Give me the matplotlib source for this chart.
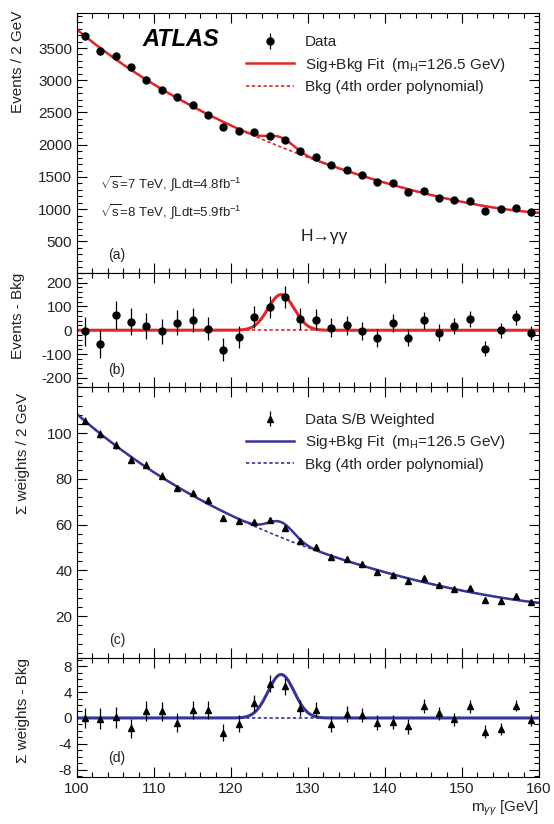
import numpy as np
import matplotlib
matplotlib.use("Agg")
import matplotlib.pyplot as plt
from matplotlib.ticker import MultipleLocator, FixedLocator

plt.rcParams['font.family'] = ['Liberation Sans', 'DejaVu Sans']
plt.rcParams['mathtext.fontset'] = 'custom'
plt.rcParams['mathtext.rm'] = 'Liberation Sans'
plt.rcParams['mathtext.it'] = 'Liberation Sans:italic'
plt.rcParams['mathtext.bf'] = 'Liberation Sans:bold'
plt.rcParams['axes.unicode_minus'] = False

# bin centres, 2 GeV bins from 100 to 160
mass = np.arange(101, 160, 2)

# (a) events / 2 GeV
events = [3680, 3450, 3380, 3200, 3010, 2845, 2735, 2620, 2465, 2275,
          2218, 2190, 2130, 2078, 1897, 1804, 1680, 1613, 1525, 1416,
          1406, 1266, 1287, 1173, 1148, 1122, 977, 1003, 1018, 950]

# (b) events - bkg
events_resid = [-5, -56, 63, 35, 17, -4, 32, 42, 7, -82,
                -28, 56, 99, 141, 49, 45, 11, 21, -3, -32,
                32, -32, 42, -10, 18, 46, -77, 0, 54, -11]

# (c) S/B weighted sum / 2 GeV
weights = [105.4, 99.6, 94.8, 88.3, 86.1, 81.3, 75.9, 73.8, 70.6, 62.9,
           61.7, 61.0, 61.9, 58.6, 52.8, 50.3, 45.8, 45.1, 42.6, 39.4,
           37.8, 35.4, 36.5, 33.6, 31.7, 32.2, 27.0, 26.4, 28.8, 26.2]

# (d) weights - bkg
weights_resid = [0.0, -0.1, 0.1, -1.6, 1.1, 1.0, -0.7, 1.2, 1.2, -2.3,
                 -0.9, 2.3, 5.3, 4.9, 1.5, 1.3, -0.9, 0.6, 0.5, -0.7,
                 -0.6, -1.3, 1.8, 0.7, -0.2, 1.8, -2.1, -1.7, 1.9, -0.3]

weights_err = [1.6, 1.6, 1.6, 1.5, 1.5, 1.5, 1.4, 1.4, 1.4, 1.3,
               1.3, 1.3, 1.3, 1.3, 1.2, 1.2, 1.2, 1.2, 1.1, 1.1,
               1.1, 1.1, 1.1, 1.0, 1.0, 1.0, 1.0, 0.9, 0.9, 0.9]

m_higgs = 126.5
sig_width = 1.7
sig_events = 150.0
sig_weights = 6.7

red = '#e3262b'
blue = '#35359a'
txt = '#222222'

events = np.array(events, float)
weights = np.array(weights, float)
events_err = np.sqrt(events)


def signal(m, peak):
    return peak * np.exp(-0.5 * ((m - m_higgs) / sig_width) ** 2)


# 4th order polynomial background, fitted to data minus signal
fine = np.linspace(100, 160, 600)
pa = np.polyfit(mass - 130, events - signal(mass, sig_events), 4)
pc = np.polyfit(mass - 130, weights - signal(mass, sig_weights), 4)
bkg_a = np.polyval(pa, fine - 130)
bkg_c = np.polyval(pc, fine - 130)

fig = plt.figure(figsize=(5.54, 8.24), dpi=100)
L, W = 0.139, 0.834
ax_a = fig.add_axes([L, 0.669, W, 0.315])
ax_b = fig.add_axes([L, 0.530, W, 0.139])
ax_c = fig.add_axes([L, 0.2015, W, 0.3285])
ax_d = fig.add_axes([L, 0.057, W, 0.1445])

for ax in (ax_a, ax_b, ax_c, ax_d):
    ax.set_xlim(100, 160)
    ax.xaxis.set_major_locator(MultipleLocator(10))
    ax.xaxis.set_minor_locator(MultipleLocator(2))
    ax.tick_params(which='both', direction='in', top=True, right=True,
                   labelsize=11, labelcolor=txt, width=0.8)
    ax.tick_params(which='major', length=7)
    ax.tick_params(which='minor', length=3.5)
    if ax is not ax_d:
        ax.tick_params(labelbottom=False)

leg_kw = dict(loc='upper left', frameon=False, fontsize=11,
              handlelength=3.15, handletextpad=0.72, labelspacing=0.42,
              borderpad=0, borderaxespad=0, labelcolor=txt)

# (a)
ax_a.set_ylim(15, 4040)
ax_a.yaxis.set_major_locator(FixedLocator(np.arange(500, 4000, 500)))
ax_a.yaxis.set_minor_locator(MultipleLocator(100))
h_bkg, = ax_a.plot(fine, bkg_a, ls=(0, (2, 1.5)), color=red, lw=1.2,
                   label='Bkg (4th order polynomial)')
h_fit, = ax_a.plot(fine, bkg_a + signal(fine, sig_events), color=red, lw=1.8,
                   label='Sig+Bkg Fit  (m$_{\\rm H}$=126.5 GeV)')
h_dat = ax_a.errorbar(mass, events, yerr=events_err, fmt='o', color='black',
                      ms=5, elinewidth=0.9, capsize=0, label='Data')
ax_a.legend(handles=[h_dat, h_fit, h_bkg], bbox_to_anchor=(0.366, 0.915),
            **leg_kw)
ax_a.text(0.141, 0.9, 'ATLAS', transform=ax_a.transAxes, fontsize=17,
          fontweight='bold', fontstyle='italic', va='center', ha='left')
ax_a.text(0.05, 0.34, r'$\sqrt{\rm s}$=7 TeV, $\int$Ldt=4.8fb$^{-1}$',
          transform=ax_a.transAxes, fontsize=9.5, va='center', color=txt)
ax_a.text(0.05, 0.232, r'$\sqrt{\rm s}$=8 TeV, $\int$Ldt=5.9fb$^{-1}$',
          transform=ax_a.transAxes, fontsize=9.5, va='center', color=txt)
ax_a.text(0.484, 0.138, 'H\u2192\u03b3\u03b3', transform=ax_a.transAxes,
          fontsize=12.5, va='center', color=txt)
ax_a.text(0.067, 0.068, '(a)', transform=ax_a.transAxes, fontsize=10,
          va='center', color=txt)
ax_a.set_ylabel('Events / 2 GeV', loc='top', fontsize=11, color=txt)
ax_a.yaxis.set_label_coords(-0.113, 1.01)

# (b)
ax_b.set_ylim(-240, 242)
ax_b.yaxis.set_major_locator(MultipleLocator(100))
ax_b.yaxis.set_minor_locator(MultipleLocator(20))
ax_b.plot(fine, np.zeros_like(fine), ls=(0, (2, 1.5)), color=red, lw=1.2)
ax_b.plot(fine, signal(fine, sig_events), color=red, lw=2.2)
ax_b.errorbar(mass, events_resid, yerr=events_err, fmt='o', color='black',
              ms=5, elinewidth=0.9, capsize=0)
ax_b.text(0.067, 0.149, '(b)', transform=ax_b.transAxes, fontsize=10,
          va='center', color=txt)
ax_b.set_ylabel('Events - Bkg', loc='top', fontsize=11, color=txt)
ax_b.yaxis.set_label_coords(-0.113, 1.0)

# (c)
ax_c.set_ylim(1.7, 120)
ax_c.yaxis.set_major_locator(FixedLocator([20, 40, 60, 80, 100]))
ax_c.yaxis.set_minor_locator(MultipleLocator(4))
hc_bkg, = ax_c.plot(fine, bkg_c, ls=(0, (2, 1.5)), color=blue, lw=1.2,
                    label='Bkg (4th order polynomial)')
hc_fit, = ax_c.plot(fine, bkg_c + signal(fine, sig_weights), color=blue, lw=1.8,
                    label='Sig+Bkg Fit  (m$_{\\rm H}$=126.5 GeV)')
hc_dat = ax_c.errorbar(mass, weights, yerr=weights_err, fmt='^', color='black',
                       ms=5, elinewidth=0.9, capsize=0, label='Data S/B Weighted')
ax_c.legend(handles=[hc_dat, hc_fit, hc_bkg], bbox_to_anchor=(0.366, 0.905),
            **leg_kw)
ax_c.text(0.07, 0.066, '(c)', transform=ax_c.transAxes, fontsize=10,
          va='center', color=txt)
ax_c.set_ylabel('\u03a3 weights / 2 GeV', loc='top', fontsize=11, color=txt)
ax_c.yaxis.set_label_coords(-0.102, 0.98)

# (d)
ax_d.set_ylim(-9.1, 9.25)
ax_d.yaxis.set_major_locator(MultipleLocator(4))
ax_d.yaxis.set_minor_locator(MultipleLocator(1))
ax_d.plot(fine, np.zeros_like(fine), ls=(0, (2, 1.5)), color=blue, lw=1.2)
ax_d.plot(fine, signal(fine, sig_weights), color=blue, lw=2.2)
ax_d.errorbar(mass, weights_resid, yerr=weights_err, fmt='^', color='black',
              ms=5, elinewidth=0.9, capsize=0)
ax_d.text(0.067, 0.16, '(d)', transform=ax_d.transAxes, fontsize=10,
          va='center', color=txt)
ax_d.set_ylabel('\u03a3 weights - Bkg', loc='top', fontsize=11, color=txt)
ax_d.yaxis.set_label_coords(-0.102, 1.0)
ax_d.set_xlabel('m$_{\\gamma\\gamma}$ [GeV]', loc='right', fontsize=11,
                color=txt, labelpad=2)

fig.savefig('out.png', dpi=100)
